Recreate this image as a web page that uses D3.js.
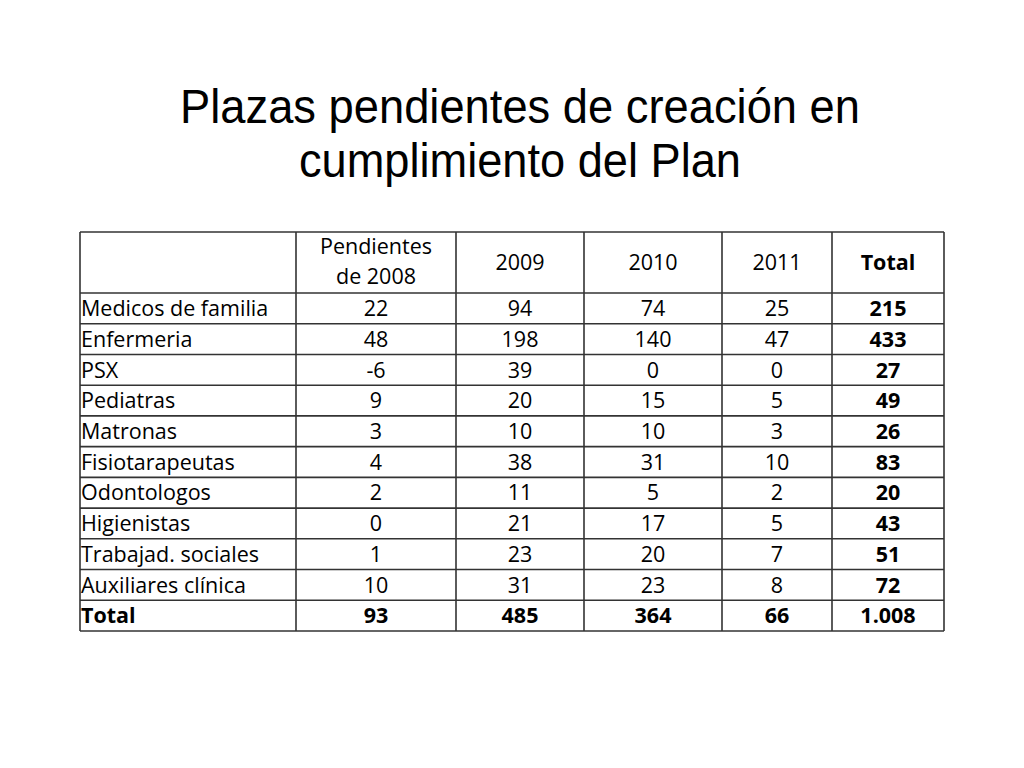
<!DOCTYPE html>
<html>
<head>
<meta charset="utf-8">
<script src="https://cdn.jsdelivr.net/npm/d3@7"></script>
<style>
  body { margin: 0; background: #fff; }
</style>
</head>
<body>
<div id="chart"></div>
<script>
// Table data
var titleLines = ["Plazas pendientes de creación en", "cumplimiento del Plan"];
var headers = [["Pendientes", "de 2008"], ["2009"], ["2010"], ["2011"], ["Total"]];
var categories = ["Medicos de familia", "Enfermeria", "PSX", "Pediatras", "Matronas",
    "Fisiotarapeutas", "Odontologos", "Higienistas", "Trabajad. sociales", "Auxiliares clínica"];
var pend2008 = [22, 48, -6, 9, 3, 4, 2, 0, 1, 10];
var y2009 = [94, 198, 39, 20, 10, 38, 11, 21, 23, 31];
var y2010 = [74, 140, 0, 15, 10, 31, 5, 17, 20, 23];
var y2011 = [25, 47, 0, 5, 3, 10, 2, 5, 7, 8];
var totals = [215, 433, 27, 49, 26, 83, 20, 43, 51, 72];
var totalRow = ["93", "485", "364", "66", "1.008"];

var width = 1024, height = 768;

var svg = d3.select("#chart").append("svg")
    .attr("width", width)
    .attr("height", height);

// Title (narrow sans, squeezed to the reference widths)
var titleWidths = [680, 442];
svg.append("g").selectAll("text")
    .data(titleLines)
  .enter().append("text")
    .attr("x", 520)
    .attr("y", (d, i) => 123 + i * 54)
    .attr("text-anchor", "middle")
    .attr("textLength", (d, i) => titleWidths[i])
    .attr("lengthAdjust", "spacingAndGlyphs")
    .style("font-family", "'Liberation Sans', Arial, sans-serif")
    .style("font-size", "48px")
    .style("fill", "#000")
    .text(d => d);

// Column edges (layout) and row scale
var colEdges = [80, 296, 456, 584, 722, 832, 944];
var headerTop = 232, headerBottom = 293, tableBottom = 631;

var rowNames = categories.concat(["Total"]);
var y = d3.scaleBand()
    .domain(d3.range(rowNames.length))
    .range([headerBottom, tableBottom]);

var rows = categories.map((c, i) => ({
    name: c,
    cells: [pend2008[i], y2009[i], y2010[i], y2011[i], totals[i]].map(String),
    total: false
}));
rows.push({ name: "Total", cells: totalRow, total: true });

var font = "'Open Sans', Lato, sans-serif";
var fs = "21.5px";
var lineColor = "#333";

// Header texts
headers.forEach(function(h, j) {
    var cx = (colEdges[j + 1] + colEdges[j + 2]) / 2;
    var t = svg.append("text")
        .attr("text-anchor", "middle")
        .style("font-family", font)
        .style("font-size", fs)
        .style("font-weight", j === 4 ? "bold" : "normal");
    if (h.length === 2) {
        t.selectAll("tspan").data(h).enter().append("tspan")
            .attr("x", cx)
            .attr("y", (d, i) => 254 + i * 30)
            .text(d => d);
    } else {
        t.attr("x", cx).attr("y", 270).text(h[0]);
    }
});

// Body rows
var row = svg.append("g").selectAll("g.row")
    .data(rows)
  .enter().append("g")
    .attr("class", "row")
    .attr("transform", (d, i) => "translate(0," + (y(i) + y.bandwidth() / 2) + ")");

row.append("text")
    .attr("x", 81)
    .attr("dy", "0.36em")
    .style("font-family", font)
    .style("font-size", fs)
    .style("font-weight", d => d.total ? "bold" : "normal")
    .text(d => d.name);

row.selectAll("text.val")
    .data(d => d.cells.map((v, j) => ({ v: v, j: j, bold: d.total || j === 4 })))
  .enter().append("text")
    .attr("class", "val")
    .attr("x", d => (colEdges[d.j + 1] + colEdges[d.j + 2]) / 2)
    .attr("dy", "0.36em")
    .attr("text-anchor", "middle")
    .style("font-family", font)
    .style("font-size", fs)
    .style("font-weight", d => d.bold ? "bold" : "normal")
    .text(d => d.v);

// Grid lines
var grid = svg.append("g")
    .style("stroke", lineColor)
    .style("stroke-width", 1.6);

var hLines = [headerTop, headerBottom].concat(d3.range(1, rowNames.length).map(i => y(i)), [tableBottom]);
grid.selectAll("line.h")
    .data(hLines)
  .enter().append("line")
    .attr("x1", colEdges[0]).attr("x2", colEdges[colEdges.length - 1])
    .attr("y1", d => d).attr("y2", d => d);

grid.selectAll("line.v")
    .data(colEdges)
  .enter().append("line")
    .attr("x1", d => d).attr("x2", d => d)
    .attr("y1", headerTop).attr("y2", tableBottom);
</script>
</body>
</html>
